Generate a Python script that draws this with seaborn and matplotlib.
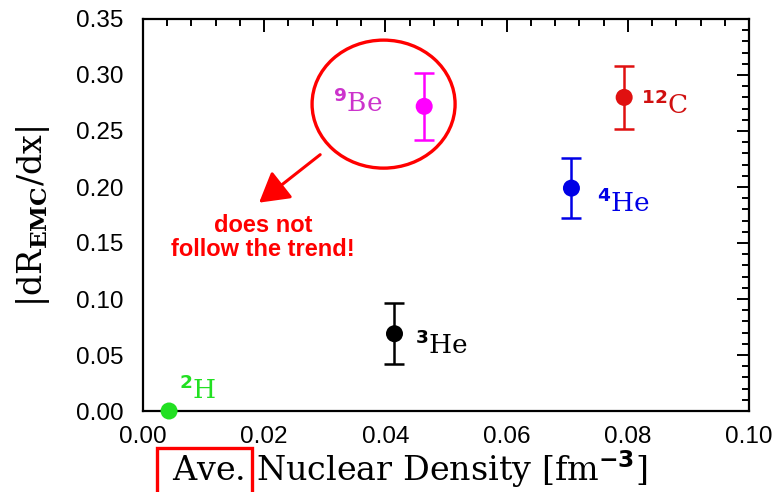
import matplotlib
matplotlib.use("Agg")
import matplotlib.pyplot as plt
from matplotlib.patches import Ellipse, Rectangle, FancyArrowPatch
from matplotlib.ticker import MultipleLocator, FormatStrFormatter
import pandas as pd
import seaborn as sns

# EMC slope vs. average nuclear density
nuclei = ["2H", "3He", "9Be", "4He", "12C"]
labels = [r"$^{\mathbf{2}}$H", r"$^{\mathbf{3}}$He", r"$^{\mathbf{9}}$Be", r"$^{\mathbf{4}}$He", r"$^{\mathbf{12}}$C"]
density = [0.0043, 0.0415, 0.0464, 0.0707, 0.0794]
slope = [0.000, 0.069, 0.272, 0.199, 0.280]
slope_err = [0.000, 0.027, 0.030, 0.027, 0.028]
colors = ["#22e022", "#000000", "#ff00ff", "#0000e6", "#e01010"]
label_colors = ["#22e022", "#000000", "#cc33cc", "#0000e6", "#d01010"]
label_pos = [(0.0091, 0.019), (0.0492, 0.059), (0.0355, 0.275), (0.0793, 0.186), (0.0860, 0.273)]

df = pd.DataFrame({"nucleus": nuclei, "density": density, "slope": slope, "err": slope_err})

sns.set_theme(style="white")
plt.rcParams["mathtext.fontset"] = "custom"
plt.rcParams["mathtext.rm"] = "DejaVu Serif"
plt.rcParams["mathtext.it"] = "DejaVu Serif:italic"
plt.rcParams["mathtext.bf"] = "DejaVu Sans:bold"
plt.rcParams["mathtext.sf"] = "DejaVu Serif:bold"

fig = plt.figure(figsize=(7.79, 4.92), dpi=100)
ax = fig.add_axes([143 / 779, 81 / 492, 606 / 779, 392 / 492])

for i, row in df.iterrows():
    if row["err"] > 0:
        ax.errorbar(row["density"], row["slope"], yerr=row["err"], fmt="none",
                    ecolor=colors[i], elinewidth=1.8, capsize=7, capthick=1.8, zorder=3)

sns.scatterplot(data=df, x="density", y="slope", hue="nucleus", palette=dict(zip(nuclei, colors)),
                s=150, edgecolor="none", legend=False, ax=ax, zorder=4, clip_on=False)

for lab, (lx, ly), c in zip(labels, label_pos, label_colors):
    ax.text(lx, ly, lab, color=c, fontsize=19, family="DejaVu Serif", ha="center", va="center")

ax.set_xlim(0, 0.10)
ax.set_ylim(0, 0.35)
ax.xaxis.set_major_locator(MultipleLocator(0.02))
ax.xaxis.set_minor_locator(MultipleLocator(0.004))
ax.yaxis.set_major_locator(MultipleLocator(0.05))
ax.yaxis.set_minor_locator(MultipleLocator(0.01))
ax.xaxis.set_major_formatter(FormatStrFormatter("%.2f"))
ax.yaxis.set_major_formatter(FormatStrFormatter("%.2f"))

for s in ax.spines.values():
    s.set_color("black")
    s.set_linewidth(1.6)
ax.tick_params(which="both", direction="in", top=True, right=True, colors="black", width=1.4)
ax.tick_params(which="major", length=9)
ax.tick_params(which="minor", length=5)
ax.tick_params(axis="x", which="major", pad=11, labelsize=17.5)
ax.tick_params(axis="y", which="major", pad=14, labelsize=17.5)
for t in ax.get_xticklabels() + ax.get_yticklabels():
    t.set_family("Liberation Sans")
ax.set_xlabel("")
ax.set_ylabel("")

fig.text(172 / 779, 1 - 481 / 492, r"Ave. Nuclear Density [fm$^{\mathbf{-3}}$]",
         family="DejaVu Serif", fontsize=24, ha="left", va="baseline", color="black")
fig.text(33 / 779, 1 - 216 / 492, r"$\mathrm{|dR}_{\mathsf{EMC}}\mathrm{/dx|}$",
         fontsize=24, rotation=90, ha="center", va="center", color="black")

# Highlight circle around the outlier with an arrow and note
ax.add_patch(Ellipse((0.0397, 0.274), 0.0236, 0.1143, fill=False, edgecolor="#ff0000", linewidth=2.4, zorder=5))
ax.add_patch(FancyArrowPatch((0.0296, 0.2304), (0.0188, 0.1845), arrowstyle="-|>,head_length=12,head_width=7",
                             color="#ff0000", linewidth=2.2, mutation_scale=1.5, zorder=5))
ax.text(0.0198, 0.155, "does not\nfollow the trend!", color="#ff0000", fontsize=17, fontweight="bold",
        family="Liberation Sans", ha="center", va="center", linespacing=1.1)

# Box around "Ave." in the axis title
fig.patches.append(Rectangle((157 / 779, -0.02), 95 / 779, 44 / 492 + 0.02, transform=fig.transFigure,
                             fill=False, edgecolor="#ff0000", linewidth=2.4, clip_on=False))

fig.savefig("out.png", dpi=100)
